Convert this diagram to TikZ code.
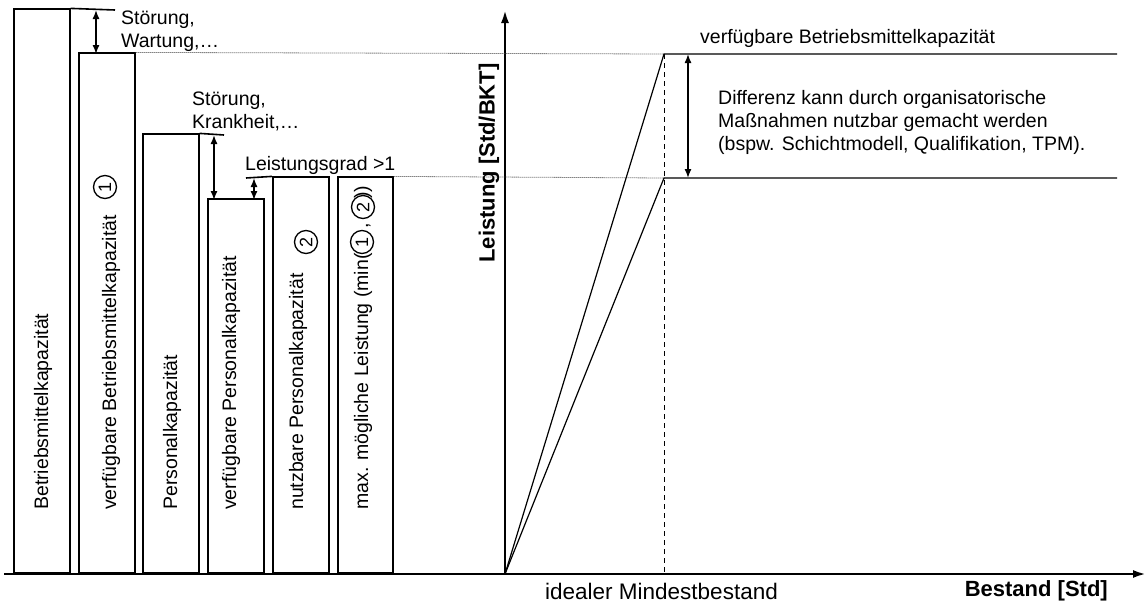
\documentclass[tikz,border=0pt]{standalone}
\usepackage{fontspec}
\setmainfont{Liberation Sans}
\usetikzlibrary{arrows.meta}
\begin{document}
\begin{tikzpicture}[x=1pt,y=-1pt,
  bar/.style={draw, line width=1.6pt, inner sep=0, anchor=south west},
  axis/.style={line width=2.4pt, -{Latex[length=13pt,width=8pt]}},
  dim/.style={line width=1.4pt, {Latex[length=9pt,width=7pt]}-{Latex[length=9pt,width=7pt]}},
  guide/.style={line width=0.8pt, black!75, dash pattern=on 1pt off 1pt},
  thin/.style={line width=1.2pt},
  lbl/.style={font=\fontsize{19.5}{23}\selectfont, inner sep=0, align=left},
  vlbl/.style={lbl, rotate=90, anchor=west, text height=14pt, text depth=4pt},
  num/.style={circle, draw, line width=1.3pt, minimum size=23pt, inner sep=0, rotate=90, font=\fontsize{18}{18}\selectfont},
  big/.style={font=\fontsize{22.5}{26}\selectfont, inner sep=0},
  bigb/.style={font=\fontsize{22}{26}\selectfont\bfseries, inner sep=0}]
\useasboundingbox (0,0) rectangle (1146,603);
% bars
\node[bar, minimum width=56pt, minimum height=564pt] (b1) at (13,574) {};
\node[bar, minimum width=56pt, minimum height=520pt] (b2) at (78,574) {};
\node[bar, minimum width=56pt, minimum height=439pt] (b3) at (142,574) {};
\node[bar, minimum width=56pt, minimum height=374pt] (b4) at (207,574) {};
\node[bar, minimum width=56pt, minimum height=396pt] (b5) at (272,574) {};
\node[bar, minimum width=55pt, minimum height=396pt] (b6) at (337,574) {};
% axes
\coordinate (O) at (505,574);
\coordinate (xs) at (4,574);
\coordinate (xe) at (1146,574);
\coordinate (ye) at (505,10);
\draw[axis] (xs) -- (xe);
\draw[axis] (O) -- (ye);
% helper coordinates
\coordinate (t1) at (115,10);
\coordinate (t2) at (224,135);
\coordinate (t3) at (246,178);
\coordinate (P1) at (664,54);
\coordinate (P2) at (664,178);
\coordinate (E1) at (1117,54);
\coordinate (E2) at (1117,178);
% top extension lines
\draw[bar] (b1.north east) -- (t1);
\draw[bar] (b3.north east) -- (t2);
\draw[bar] (t3) -- (b5.north west);
% dimension arrows
\draw[dim] (96,10) -- (96,54);
\draw[dim] (214,135) -- (214,200);
\draw[dim] (254,178) -- (254,200);
% dotted guides
\draw[guide] (b2.north east) -- (P1);
\draw[guide] (b6.north east) -- (P2);
% right part
\draw[thin] (O) -- (P1) -- (E1);
\draw[thin] (O) -- (P2) -- (E2);
\draw[line width=1pt, dash pattern=on 5pt off 4pt] (P1) -- (P1 |- O);
\draw[dim] (688,54) -- (688,178);
% labels
\node[lbl, anchor=west] (s1) at (121,31) {Störung,\\Wartung,…};
\node[lbl, anchor=west] (s2) at (192,111) {Störung,\\Krankheit,…};
\node[lbl, anchor=west] (s3) at (245,165) {Leistungsgrad >1};
\node[lbl, anchor=west] (vb) at (700,38) {verfügbare Betriebsmittelkapazität};
\node[lbl, anchor=west] (diff) at (718,122) {Differenz kann durch organisatorische\\Maßnahmen nutzbar gemacht werden\\(bspw. Schichtmodell, Qualifikation, TPM).};
\node[big, anchor=west] (ideal) at (545,591) {idealer Mindestbestand};
\node[bigb, anchor=east] (best) at (1108,591) {Bestand [Std]};
\node[bigb, rotate=90] (ylab) at (489,163) {Leistung [Std/BKT]};
% bar labels
\node[vlbl] (l1) at (43,510) {Betriebsmittelkapazität};
\node[vlbl] (l2) at (111,510) {verfügbare Betriebsmittelkapazität};
\node[vlbl] (l3) at (172,510) {Personalkapazität};
\node[vlbl] (l4) at (231,510) {verfügbare Personalkapazität};
\node[vlbl] (l5) at (298,510) {nutzbare Personalkapazität};
\node[vlbl] (l6) at (363,510) {max. mögliche Leistung (min(};
\node[num] (c1) at (105,187) {1};
\node[num] (c2) at (306,242) {2};
\node[num] (c3) at (362,242) {1};
\node[vlbl] (cm) at (363,229) {,};
\node[num] (c4) at (363,207) {2};
\node[vlbl] (pp) at (363,199) {))};
\end{tikzpicture}
\end{document}
